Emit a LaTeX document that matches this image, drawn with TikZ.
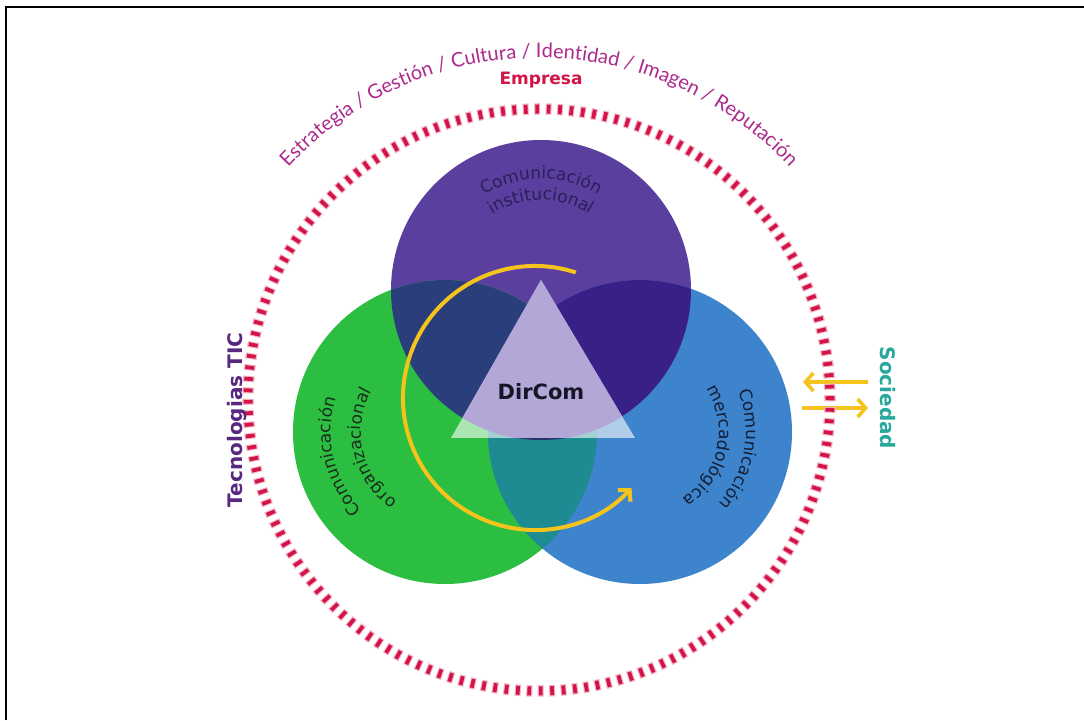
\documentclass[tikz,border=0pt]{standalone}
\usepackage{fontspec}
\setmainfont{Lato}
\newfontfamily\dejavu{DejaVu Sans}
\usetikzlibrary{decorations.text,arrows.meta,calc}

\definecolor{vpurple}{RGB}{91,63,158}
\definecolor{vgreen}{RGB}{44,190,64}
\definecolor{vblue}{RGB}{62,132,204}
\definecolor{ovpg}{RGB}{42,62,124}
\definecolor{ovpb}{RGB}{56,32,134}
\definecolor{ovgb}{RGB}{30,138,146}
\definecolor{ovall}{RGB}{40,50,110}
\definecolor{lav}{RGB}{178,167,214}
\definecolor{dashred}{RGB}{212,20,72}
\definecolor{arctext}{RGB}{172,42,140}
\definecolor{tic}{RGB}{88,40,128}
\definecolor{soc}{RGB}{38,168,156}
\definecolor{gold}{RGB}{245,196,28}
\definecolor{ptext}{RGB}{45,30,90}
\definecolor{gtext}{RGB}{25,45,30}
\definecolor{btext}{RGB}{20,30,55}

\tikzset{
  boldlabel/.style={font=\dejavu\bfseries\fontsize{#1}{#1}\selectfont},
  goldarrow/.style={gold, line width=3.6pt, -{Straight Barb[length=8pt,width=18pt]}},
}

\begin{document}
\begin{tikzpicture}[x=1pt,y=1pt]
\useasboundingbox (0,0) rectangle (1084,720);
\fill[white] (0,0) rectangle (1084,720);
% frame
\draw[line width=2.2pt] (6,0) -- (6,713) -- (1084,713);

% centres
\coordinate (P) at (541,430);
\coordinate (G) at (445,288);
\coordinate (B) at (640,288);
\coordinate (R) at (539,320);
\coordinate (Y) at (535,322);

% three circles and their overlaps
\fill[vpurple] (P) circle[radius=150];
\fill[vgreen] (G) circle[radius=152];
\fill[vblue] (B) circle[radius=152];
\begin{scope}
  \clip (P) circle[radius=150];
  \fill[ovpg] (G) circle[radius=152];
  \fill[ovpb] (B) circle[radius=152];
\end{scope}
\begin{scope}
  \clip (G) circle[radius=152];
  \fill[ovgb] (B) circle[radius=152];
  \clip (B) circle[radius=152];
  \fill[ovall] (P) circle[radius=150];
\end{scope}

% DirCom triangle
\coordinate (T1) at (541,440);
\coordinate (T2) at (451,282);
\coordinate (T3) at (635,282);
\fill[white, opacity=.6] (T1) -- (T2) -- (T3) -- cycle;
\begin{scope}
  \clip (T1) -- (T2) -- (T3) -- cycle;
  \fill[lav] (P) circle[radius=150];
\end{scope}
\node[boldlabel=21, text={rgb,255:red,22;green,22;blue,40}] (dircom) at (541,328) {DirCom};

% circle labels
\path[decorate, decoration={text along path, text align=center,
  text={|\dejavu\fontsize{17}{20}\selectfont\color{ptext}|Comunicación}}]
  ($(P)+(150:111)$) arc[start angle=150, end angle=30, radius=111];
\path[decorate, decoration={text along path, text align=center,
  text={|\dejavu\fontsize{17}{20}\selectfont\color{ptext}|institucional}}]
  ($(P)+(150:90)$) arc[start angle=150, end angle=30, radius=90];

\path[decorate, decoration={text along path, text align=center,
  text={|\dejavu\fontsize{17}{20}\selectfont\color{gtext}|Comunicación}}]
  ($(G)+(248:114)$) arc[start angle=248, end angle=138, radius=114];
\path[decorate, decoration={text along path, text align=center,
  text={|\dejavu\fontsize{17}{20}\selectfont\color{gtext}|organizacional}}]
  ($(G)+(245:84)$) arc[start angle=245, end angle=141, radius=84];

\path[decorate, decoration={text along path, text align=center,
  text={|\dejavu\fontsize{17}{20}\selectfont\color{btext}|Comunicación}}]
  ($(B)+(45:106)$) arc[start angle=45, end angle=-65, radius=106];
\path[decorate, decoration={text along path, text align=center,
  text={|\dejavu\fontsize{17}{20}\selectfont\color{btext}|mercadológica}}]
  ($(B)+(40:79)$) arc[start angle=40, end angle=-64, radius=79];

% rotating arrow round the centre
\draw[gold, line width=4pt, -{Straight Barb[length=8pt,width=17pt]}]
  ($(Y)+(72:132)$) arc[start angle=72, end angle=317, radius=132];

% exchange arrows with society
\coordinate (sa1) at (868,338);
\coordinate (sa2) at (803,338);
\coordinate (sb1) at (802,312);
\coordinate (sb2) at (868,312);
\draw[goldarrow] (sa1) -- (sa2);
\draw[goldarrow] (sb1) -- (sb2);

% dashed company ring
\draw[dashred!30, line width=11.5pt, dash pattern=on 6pt off 5.4275pt, dash phase=1.1pt] (R) circle[radius=291];
\draw[dashred, line width=9pt, dash pattern=on 3.8pt off 7.6275pt] (R) circle[radius=291];

% outer labels
\path[decorate, decoration={text along path, text align=center,
  text={|\fontsize{20}{22}\selectfont\color{arctext}|Estrategia / Gestión / Cultura / Identidad / Imagen / Reputación}}]
  ($(R)+(155:342)$) arc[start angle=155, end angle=25, radius=342];
\node[boldlabel=17, text=dashred] (empresa) at (541,640) {Empresa};
\node[boldlabel=20, text=tic, rotate=90] (tecno) at (237,300) {Tecnologias TIC};
\node[boldlabel=20, text=soc, rotate=-90] (sociedad) at (888,322) {Sociedad};
\end{tikzpicture}
\end{document}
